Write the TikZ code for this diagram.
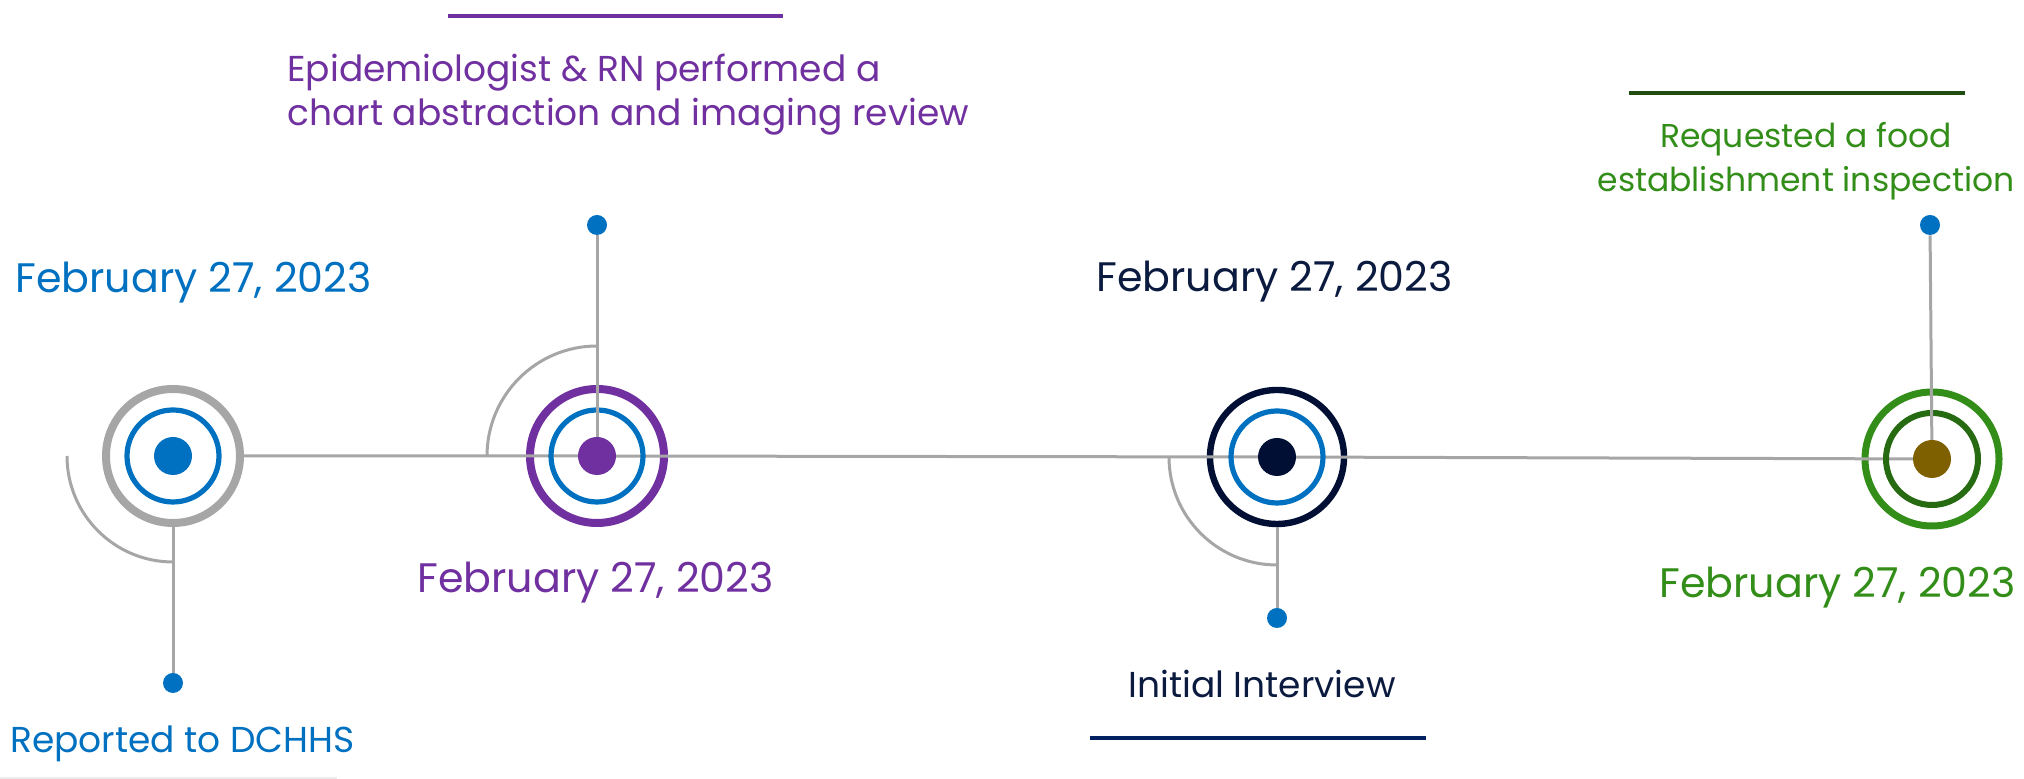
\documentclass[tikz,border=0pt]{standalone}
\usepackage{fontspec}
\setmainfont{Poppins}
\usepackage{xcolor}
\usetikzlibrary{positioning}

\definecolor{tlblue}{HTML}{0070C0}
\definecolor{tlpurple}{HTML}{7030A0}
\definecolor{tlnavy}{HTML}{000F33}
\definecolor{tlnavytext}{HTML}{0B1A3F}
\definecolor{tlrulenavy}{HTML}{002060}
\definecolor{tlgreen}{HTML}{338E19}
\definecolor{tldkgreen}{HTML}{266A12}
\definecolor{tlrulegreen}{HTML}{1F4E10}
\definecolor{tlbrown}{HTML}{7F6000}
\definecolor{tlgray}{HTML}{A6A6A6}

\begin{document}
\begin{tikzpicture}[
    x=0.5pt, y=0.5pt,
    outerring/.style={circle, draw, line width=4pt, minimum size=67pt, inner sep=0pt},
    innerring/.style={circle, draw=tlblue, line width=2.6pt, minimum size=46pt, inner sep=0pt},
    hub/.style={circle, minimum size=19pt, inner sep=0pt},
    knob/.style={circle, fill=tlblue, minimum size=10pt, inner sep=0pt},
    stem/.style={draw=tlgray, line width=1.5pt},
    datetxt/.style={inner sep=0pt, font=\fontsize{20.6}{24}\selectfont},
    desctxt/.style={inner sep=0pt, font=\fontsize{18}{22}\selectfont},
    rule/.style={line width=2pt}
]
\useasboundingbox (0,0) rectangle (2024,779);

% timeline events
\node[outerring, draw=tlgray] (r1) at (173,323) {};
\node[outerring, draw=tlpurple] (r2) at (597,323) {};
\node[outerring, draw=tlnavy, line width=3.2pt] (r3) at (1277,322) {};
\node[outerring, draw=tlgreen, line width=3.5pt] (r4) at (1932,320) {};

% main line
\draw[stem] (r1.east) -- (r2.center) -- (r3.center) -- (r4.center);

\node[innerring] (c1) at (r1) {};
\node[innerring] (c2) at (r2) {};
\node[innerring] (c3) at (r3) {};
\node[innerring, draw=tldkgreen, line width=3pt] (c4) at (r4) {};

\node[knob] (k1) at (173,96) {};
\node[knob] (k2) at (597,554) {};
\node[knob] (k3) at (1277,161) {};
\node[knob] (k4) at (1930,554) {};

\draw[stem] (r1.south) -- (k1);
\draw[stem] (r2.center) -- (k2);
\draw[stem] (r3.south) -- (k3);
\draw[stem] (r4.center) -- (k4);

\node[hub, fill=tlblue] (h1) at (r1) {};
\node[hub, fill=tlpurple] (h2) at (r2) {};
\node[hub, fill=tlnavy] (h3) at (r3) {};
\node[hub, fill=tlbrown] (h4) at (r4) {};

% quarter arcs
\draw[stem] (r1.center) ++(180:106) arc[start angle=180, end angle=270, radius=106];
\draw[stem] (r2.center) ++(180:110) arc[start angle=180, end angle=90, radius=110];
\draw[stem] (r3.center) ++(180:108) arc[start angle=180, end angle=270, radius=108];

% labels
\node[datetxt, text=tlblue, anchor=base west] (d1) at (15,486) {February 27, 2023};
\node[desctxt, text=tlblue, anchor=base west] (t1) at (10,26) {Reported to DCHHS};

\node[desctxt, text=tlpurple, anchor=base west, align=left] (t2) at (287,653)
    {Epidemiologist \& RN performed a\\chart abstraction and imaging review};
\node[datetxt, text=tlpurple, anchor=base west] (d2) at (417,186) {February 27, 2023};
\draw[rule, tlpurple] (448,763) -- (783,763);

\node[datetxt, text=tlnavytext, anchor=base west] (d3) at (1096,487) {February 27, 2023};
\node[desctxt, text=tlnavytext, anchor=base west] (t3) at (1128,81) {Initial Interview};
\draw[rule, tlrulenavy] (1090,41) -- (1426,41);

\node[desctxt, text=tlgreen, anchor=base, align=center, font=\fontsize{16.5}{22}\selectfont]
    (t4) at (1806,587) {Requested a food\\establishment inspection};
\node[datetxt, text=tlgreen, anchor=base east] (d4) at (2016,181) {February 27, 2023};
\draw[rule, tlrulegreen] (1629,686) -- (1965,686);

\draw[gray!15, line width=0.8pt] (0,1) -- (337,1);
\end{tikzpicture}
\end{document}
